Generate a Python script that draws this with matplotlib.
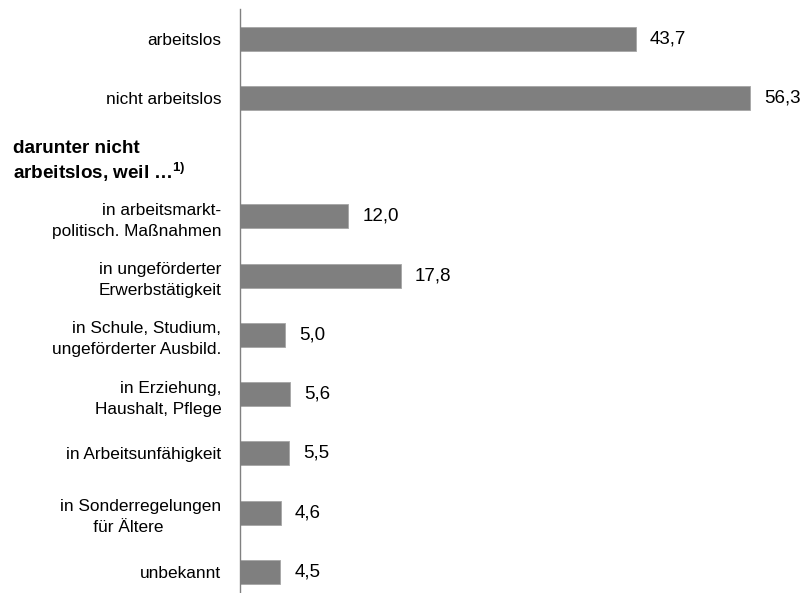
import matplotlib.pyplot as plt
from matplotlib.transforms import blended_transform_factory

plt.rcParams["font.family"] = ["Liberation Sans", "DejaVu Sans"]
plt.rcParams["mathtext.fontset"] = "custom"
plt.rcParams["mathtext.bf"] = "Liberation Sans:bold"
plt.rcParams["mathtext.rm"] = "Liberation Sans"
plt.rcParams["mathtext.default"] = "bf"

# rows from top to bottom, slot 2 is the sub-heading (no bar)
labels = [
    "arbeitslos",
    "nicht arbeitslos",
    "",
    "in arbeitsmarkt-\npolitisch. Maßnahmen",
    "in ungeförderter\nErwerbstätigkeit",
    "in Schule, Studium,\nungeförderter Ausbild.",
    "in Erziehung,\nHaushalt, Pflege",
    "in Arbeitsunfähigkeit",
    "in Sonderregelungen\n       für Ältere",
    "unbekannt",
]
values = [43.7, 56.3, None, 12.0, 17.8, 5.0, 5.6, 5.5, 4.6, 4.5]
header = "darunter nicht\narbeitslos, weil …$^{1)}$"

fig = plt.figure(figsize=(8.04, 5.93), dpi=100)
ax = fig.add_axes([0.2979, -0.0145, 0.6768, 0.9993])

pos = list(range(len(labels)))
bar_pos = [p for p, v in zip(pos, values) if v is not None]
bar_val = [v for v in values if v is not None]

ax.barh(bar_pos, bar_val, height=0.405, color="#7f7f7f",
        edgecolor="#a6a6a6", linewidth=0.6)

for p, v in zip(bar_pos, bar_val):
    ax.annotate(f"{v:.1f}".replace(".", ","), xy=(v, p), xytext=(10, 0),
                textcoords="offset points", va="center", ha="left",
                fontsize=13.5)

ax.set_xlim(0, 60)
ax.set_ylim(len(labels) - 0.5, -0.5)
ax.set_yticks(pos)
ax.set_yticklabels(labels, fontsize=12.4, multialignment="right",
                   linespacing=1.5)
for t in ax.get_yticklabels():
    if "Ältere" in t.get_text():
        t.set_multialignment("left")
ax.tick_params(axis="y", length=0, pad=13)
ax.set_xticks([])

for s in ["top", "right", "bottom"]:
    ax.spines[s].set_visible(False)
ax.spines["left"].set_color("#808080")
ax.spines["left"].set_linewidth(1)

trans = blended_transform_factory(fig.transFigure, ax.transData)
ax.text(13 / 804, 2.08, header, transform=trans,
        ha="left", va="center", fontsize=13.6, fontweight="bold",
        linespacing=1.25)

fig.savefig("out.png", dpi=100)
